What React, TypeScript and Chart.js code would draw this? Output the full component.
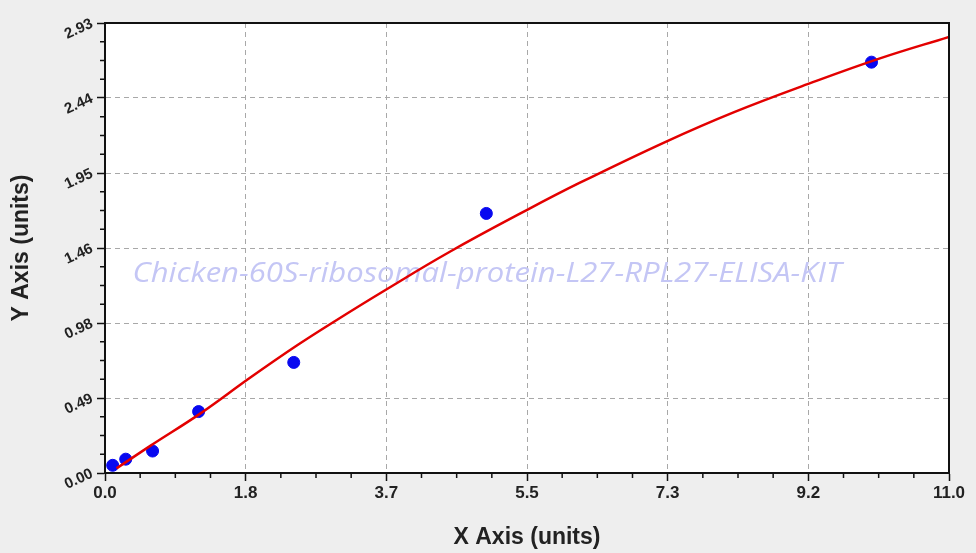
import { useEffect, useRef } from "react";
import { Chart, registerables } from "chart.js";

Chart.register(...registerables);

// standards (measured points)
const concX = [0.1, 0.27, 0.62, 1.22, 2.46, 4.97, 9.99];
const odY = [0.05, 0.09, 0.143, 0.4, 0.72, 1.69, 2.675];

// fitted curve
const fitX = [0.15, 0.6, 1.25, 1.89, 2.5, 3.0, 3.65, 4.5, 5.49, 6.19, 7.3, 8.2, 9.2, 10.1, 11.0];
const fitY = [0.03, 0.18, 0.39, 0.62, 0.83, 0.99, 1.19, 1.442, 1.71, 1.89, 2.155, 2.35, 2.54, 2.7, 2.84];

const xTickLabels = ["0.0", "1.8", "3.7", "5.5", "7.3", "9.2", "11.0"];
const yTickLabels = ["0.00", "0.49", "0.98", "1.46", "1.95", "2.44", "2.93"];
const X_MAX = 11.0;
const Y_MAX = 2.93;

const watermark = "Chicken-60S-ribosomal-protein-L27-RPL27-ELISA-KIT";

const plotDecor = {
  id: "plotDecor",
  beforeDraw(chart: any) {
    const { ctx, chartArea: a } = chart;
    ctx.save();
    ctx.fillStyle = "#ffffff";
    ctx.fillRect(a.left, a.top, a.right - a.left, a.bottom - a.top);
    ctx.restore();
  },
  beforeDatasetsDraw(chart: any) {
    const { ctx } = chart;
    ctx.save();
    ctx.font = "italic 28px 'Open Sans', 'DejaVu Sans', sans-serif";
    ctx.fillStyle = "rgb(196, 198, 245)";
    ctx.textAlign = "center";
    ctx.textBaseline = "middle";
    const w = ctx.measureText(watermark).width;
    const sx = 709 / w;
    ctx.translate(487, 274);
    ctx.scale(sx, 1);
    ctx.fillText(watermark, 0, 0);
    ctx.restore();
  },
  afterDraw(chart: any) {
    const { ctx, chartArea: a, scales } = chart;
    ctx.save();
    ctx.strokeStyle = "#111";
    ctx.lineWidth = 2;
    ctx.strokeRect(a.left, a.top, a.right - a.left, a.bottom - a.top);
    // minor ticks
    ctx.lineWidth = 1.5;
    ctx.beginPath();
    const xs = scales.x;
    const ys = scales.y;
    for (let i = 0; i < 24; i++) {
      if (i % 4 === 0) continue;
      const px = xs.getPixelForValue((X_MAX * i) / 24);
      ctx.moveTo(px, a.bottom);
      ctx.lineTo(px, a.bottom + 5);
      const py = ys.getPixelForValue((Y_MAX * i) / 24);
      ctx.moveTo(a.left, py);
      ctx.lineTo(a.left - 5, py);
    }
    ctx.stroke();
    ctx.restore();
  },
};

const boldFont = "Arial, 'Liberation Sans', sans-serif";

export default function App() {
  const chartRef = useRef<HTMLCanvasElement | null>(null);
  const chartInstance = useRef<Chart | null>(null);

  useEffect(() => {
    if (chartInstance.current) chartInstance.current.destroy();
    if (!chartRef.current) return;

    const fitData = fitX.map((x, i) => ({ x, y: fitY[i] }));
    const pts = concX.map((x, i) => ({ x, y: odY[i] }));

    chartInstance.current = new Chart(chartRef.current, {
      type: "scatter",
      data: {
        datasets: [
          {
            label: "fit",
            data: fitData,
            showLine: true,
            borderColor: "#e30000",
            borderWidth: 2.5,
            pointRadius: 0,
            tension: 0.4,
            order: 0,
          },
          {
            label: "std",
            data: pts,
            backgroundColor: "#0808f0",
            borderColor: "#0808f0",
            pointRadius: 6,
            order: 1,
          },
        ],
      },
      options: {
        animation: false,
        responsive: false,
        maintainAspectRatio: false,
        layout: { padding: { left: 0, right: 27, top: 23, bottom: 0 } },
        plugins: { legend: { display: false }, tooltip: { enabled: false } },
        scales: {
          x: {
            type: "linear",
            min: 0,
            max: X_MAX,
            afterBuildTicks: (s: any) => {
              s.ticks = xTickLabels.map((_, i) => ({ value: (X_MAX * i) / 6 }));
            },
            afterFit: (s: any) => {
              s.height = 80;
            },
            ticks: {
              callback: (_v: any, i: number) => xTickLabels[i],
              color: "#222",
              font: { family: boldFont, size: 17, weight: "bold" },
              padding: 2,
              maxRotation: 0,
              minRotation: 0,
            },
            grid: {
              color: "#a8a8a8",
              lineWidth: 1,
              tickLength: 8,
              tickColor: "#111",
              tickWidth: 1.5,
            },
            border: { display: true, color: "#111", width: 2, dash: [5, 4] },
            title: {
              display: true,
              text: "X Axis (units)",
              color: "#222",
              font: { family: boldFont, size: 23, weight: "bold" },
              padding: { top: 0, bottom: 2 },
            },
          },
          y: {
            type: "linear",
            min: 0,
            max: Y_MAX,
            afterBuildTicks: (s: any) => {
              s.ticks = yTickLabels.map((_, i) => ({ value: (Y_MAX * i) / 6 }));
            },
            afterFit: (s: any) => {
              s.width = 105;
            },
            ticks: {
              callback: (_v: any, i: number) => yTickLabels[i],
              color: "#222",
              font: { family: boldFont, size: 15, weight: "bold" },
              padding: 5,
              minRotation: 25,
              maxRotation: 25,
            },
            grid: {
              color: "#a8a8a8",
              lineWidth: 1,
              tickLength: 8,
              tickColor: "#111",
              tickWidth: 1.5,
            },
            border: { display: true, color: "#111", width: 2, dash: [5, 4] },
            title: {
              display: true,
              text: "Y Axis (units)",
              color: "#222",
              font: { family: boldFont, size: 23, weight: "bold" },
              padding: { top: 8, bottom: 0 },
            },
          },
        },
      },
      plugins: [plotDecor],
    } as any);

    return () => {
      if (chartInstance.current) {
        chartInstance.current.destroy();
        chartInstance.current = null;
      }
    };
  }, []);

  return (
    <div style={{ position: "fixed", left: 0, top: 0, width: 976, height: 553, background: "#eeeeee" }}>
      <canvas ref={chartRef} width={976} height={553} style={{ width: 976, height: 553 }}></canvas>
    </div>
  );
}
